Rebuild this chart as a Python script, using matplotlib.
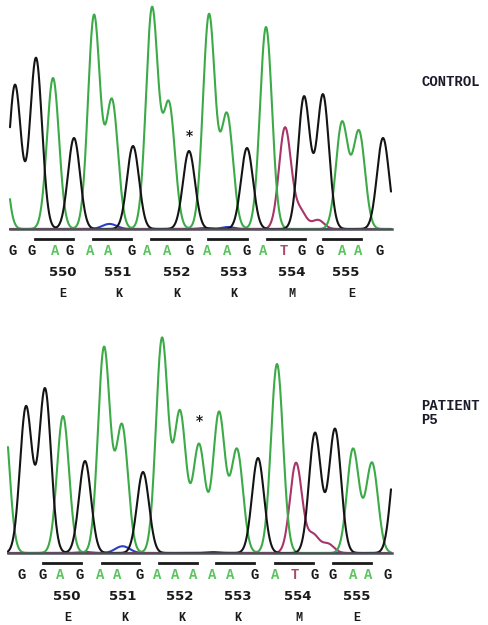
import matplotlib
matplotlib.use("Agg")
import matplotlib.pyplot as plt
import numpy as np

# ---- colours
GREEN = "#3daa48"
BLACK = "#141414"
RED = "#a8356a"
BLUE = "#2a3fc4"
LETTER_COLORS = {"G": "#1a1a1a", "A": "#5cc45e", "T": "#a84a6e"}

# ---- CONTROL panel (x in px, peak height in px above baseline)
top_base_y = 229
top_x_range = (10, 391)
top_black_x = [15, 36, 74, 133, 189, 247, 304, 323, 383]
top_black_h = [144, 171, 91, 83, 78, 81, 132, 134, 91]
top_green_x = [0, 53, 94, 112, 152, 169, 209, 227, 266, 342, 359]
top_green_h = [120, 151, 213, 128, 220, 124, 214, 114, 202, 106, 97]
top_red_x = [285, 300, 318]
top_red_h = [101, 18, 9]
top_blue_x = [106, 113, 205, 228]
top_blue_h = [3, 3, 1, 2]

top_bases = "GGAGAAGAAGAAGATGGAAG"
top_base_x = [13, 32, 55, 70, 90, 108, 132, 147, 167, 190, 207, 227, 247, 263,
              284, 302, 320, 342, 358, 380]
top_bar_x0 = [35, 93, 151, 208, 267, 323]
top_bar_x1 = [73, 131, 189, 247, 305, 361]
top_num_x = [63, 118, 177, 234, 292, 346]
top_aa_x = [63, 119, 177, 234, 292, 352]
top_star = (189, 136)

# ---- PATIENT P5 panel
bot_base_y = 553
bot_x_range = (8, 391)
bot_black_x = [26, 45, 85, 143, 258, 315, 335, 397]
bot_black_h = [146, 164, 92, 81, 95, 120, 124, 105]
bot_green_x = [3, 63, 104, 122, 162, 180, 199, 219, 237, 277, 353, 372]
bot_green_h = [150, 137, 205, 127, 214, 140, 108, 140, 103, 189, 104, 90]
bot_red_x = [296, 313, 328]
bot_red_h = [90, 18, 9]
bot_blue_x = [85, 119, 126, 213]
bot_blue_h = [1, 4, 4, 1]

bot_bases = "GGAGAAGAAAAAGATGGAAG"
bot_base_x = [22, 43, 60, 80, 100, 117, 140, 157, 175, 193, 212, 230, 255, 275,
              295, 315, 333, 353, 368, 388]
bot_bar_x0 = [43, 102, 159, 216, 275, 333]
bot_bar_x1 = [81, 139, 197, 254, 313, 371]
bot_num_x = [67, 123, 180, 238, 298, 357]
bot_aa_x = [68, 125, 182, 238, 299, 357]
bot_star = (199, 421)

codons = [550, 551, 552, 553, 554, 555]
amino = ["E", "K", "K", "K", "M", "E"]

SIGMA = 6.0


def draw_trace(ax, centers, heights, base_y, xr, color, lw=1.5):
    x = np.linspace(xr[0], xr[1], 1200)
    y = np.zeros_like(x)
    for c, h in zip(centers, heights):
        y += h * np.exp(-0.5 * ((x - c) / SIGMA) ** 2)
    ax.plot(x, base_y - y, color=color, lw=lw, solid_capstyle="round", zorder=3)


def draw_panel(ax, base_y, xr, traces, bases, base_x, bar_x0, bar_x1,
               num_x, aa_x, star):
    ax.plot([xr[0], xr[1] + 1], [base_y, base_y], color="#50505a",
            lw=1.8, zorder=4)
    for centers, heights, color in traces:
        draw_trace(ax, centers, heights, base_y, xr, color)
    # codon bars
    for a, b in zip(bar_x0, bar_x1):
        ax.plot([a, b], [base_y + 10, base_y + 10], color="#1a1a1a", lw=2.0)
    # base calls
    for ch, x in zip(bases, base_x):
        ax.text(x, base_y + 22, ch, color=LETTER_COLORS[ch], ha="center",
                va="center", fontsize=10, fontweight="bold",
                family="Liberation Mono")
    for n, x in zip(codons, num_x):
        ax.text(x, base_y + 43, str(n), color="#1a1a1a", ha="center",
                va="center", fontsize=9.5, fontweight="bold",
                family="DejaVu Sans")
    for aa, x in zip(amino, aa_x):
        ax.text(x, base_y + 65, aa, color="#1a1a1a", ha="center",
                va="center", fontsize=8.5, fontweight="bold",
                family="Liberation Mono")
    ax.text(star[0], star[1], "*", color="#1a1a1a", ha="center", va="center",
            fontsize=10, fontweight="bold")


fig = plt.figure(figsize=(4.88, 6.25), dpi=100)
ax = fig.add_axes([0, 0, 1, 1])
ax.set_xlim(0, 488)
ax.set_ylim(625, 0)
ax.axis("off")

draw_panel(ax, top_base_y, top_x_range,
           [(top_blue_x, top_blue_h, BLUE), (top_red_x, top_red_h, RED),
            (top_green_x, top_green_h, GREEN), (top_black_x, top_black_h, BLACK)],
           top_bases, top_base_x, top_bar_x0, top_bar_x1, top_num_x,
           top_aa_x, top_star)

draw_panel(ax, bot_base_y, bot_x_range,
           [(bot_blue_x, bot_blue_h, BLUE), (bot_red_x, bot_red_h, RED),
            (bot_green_x, bot_green_h, GREEN), (bot_black_x, bot_black_h, BLACK)],
           bot_bases, bot_base_x, bot_bar_x0, bot_bar_x1, bot_num_x,
           bot_aa_x, bot_star)

label_kw = dict(color="#1a1a2a", fontsize=10, fontweight="bold",
                family="Liberation Mono", ha="left", va="center")
ax.text(421, 82, "CONTROL", **label_kw)
ax.text(421, 406, "PATIENT", **label_kw)
ax.text(421, 420, "P5", **label_kw)

fig.savefig("out.png", dpi=100, facecolor="white")
